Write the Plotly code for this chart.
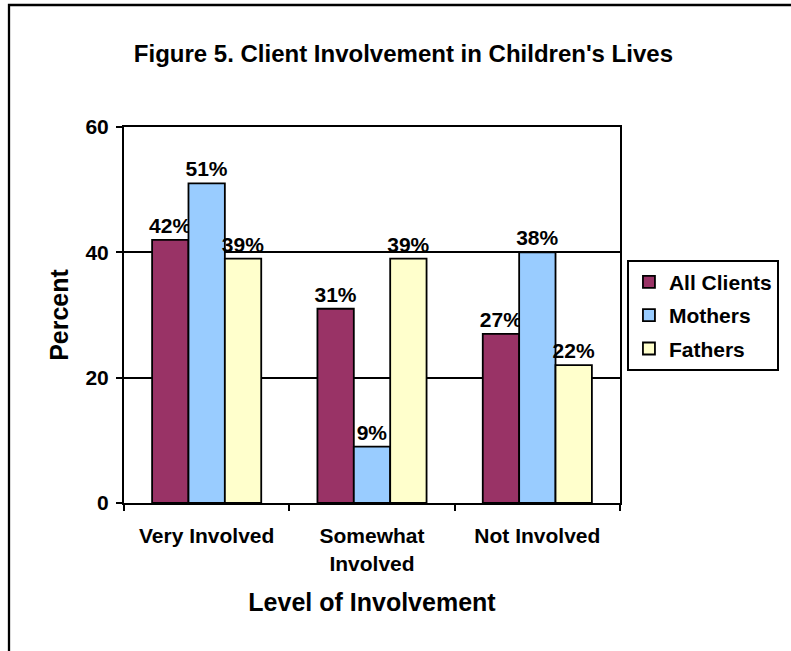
import plotly.graph_objects as go

# ---- data ----
categories = ["Very Involved", "Somewhat<br>Involved", "Not Involved"]
all_clients = [42, 31, 27]
mothers = [51, 9, 40]
fathers = [39, 39, 22]
all_clients_labels = ["42%", "31%", "27%"]
mothers_labels = ["51%", "9%", "38%"]
fathers_labels = ["39%", "39%", "22%"]

FONT = "Liberation Sans, Arial, sans-serif"
_OUTLINE = dict(color="black", width=1.8)

series = [
    ("All Clients", all_clients, all_clients_labels, "#993366"),
    ("Mothers", mothers, mothers_labels, "#99CCFF"),
    ("Fathers", fathers, fathers_labels, "#FFFFCC"),
]

fig = go.Figure()
for name, vals, labels, color in series:
    fig.add_trace(go.Bar(
        x=categories, y=vals, name=name, legendgroup=name,
        marker=dict(color=color, line=_OUTLINE),
        text=labels, textposition="outside", constraintext="none",
        textfont=dict(family=FONT, size=21, color="black"),
        cliponaxis=False,
    ))

fig.update_layout(
    width=791, height=651,
    margin=dict(l=124, r=171, t=127, b=148),
    paper_bgcolor="white", plot_bgcolor="white",
    font=dict(family=FONT, size=21, color="black", weight="bold"),
    barmode="group", bargap=0.34, bargroupgap=0,
    title=dict(text="<b>Figure 5. Client Involvement in Children's Lives</b>",
               font=dict(size=24), x=0.51, xanchor="center",
               y=1 - 54 / 651, yanchor="middle", yref="container"),
    legend=dict(x=1.014, y=0.647, xanchor="left", yanchor="top",
                bordercolor="black", borderwidth=2, bgcolor="white",
                traceorder="grouped", tracegroupgap=3,
                font=dict(size=21)),
    showlegend=True,
)

fig.update_yaxes(
    range=[0, 60], tickvals=[0, 20, 40, 60],
    showgrid=True, gridcolor="black", gridwidth=2,
    showline=True, linecolor="black", linewidth=2, mirror=True,
    ticks="outside", ticklen=6, tickwidth=2, tickcolor="black",
    ticklabelstandoff=3,
    title=dict(text="<b>Percent</b>", standoff=10),
    zeroline=False,
)
fig.update_xaxes(
    showline=True, linecolor="black", linewidth=2, mirror=True,
    ticks="outside", tickson="boundaries", ticklen=6, tickwidth=2,
    tickcolor="black", ticklabelstandoff=13,
    title=dict(text="<b>Level of Involvement</b>", standoff=20),
)

# outer chart frame, only its top and left edges fall inside the picture
fig.add_shape(type="rect", xref="paper", yref="paper",
              x0=(9 - 124) / 496, x1=1.5, y0=-0.5, y1=1 + (127 - 5) / 376,
              line=dict(color="black", width=2.3), layer="below")

# drop the default 8px body margin so the figure sits at the window corner
fig.write_html("out.html", config={"displayModeBar": False},
               post_script="document.body.style.margin = '0';")
